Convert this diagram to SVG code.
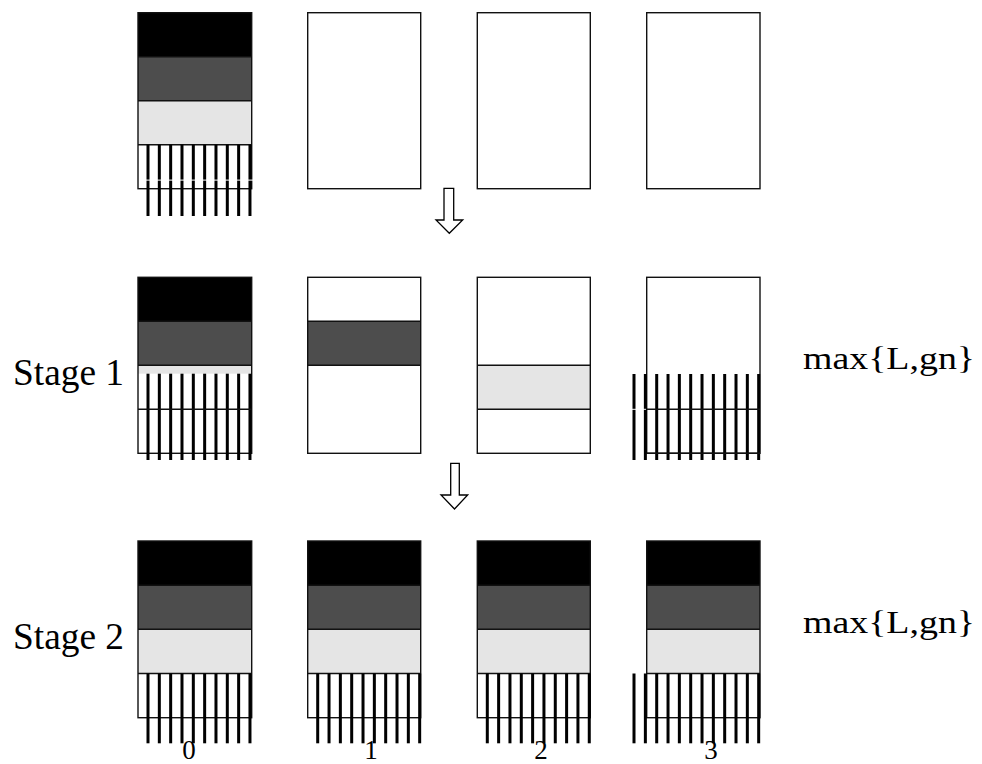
<svg xmlns="http://www.w3.org/2000/svg" width="982" height="764" viewBox="0 0 982 764">
<style>
.k{fill:#000}
.d{fill:#4d4d4d}
.l{fill:#e5e5e5}
.w{fill:#fff}
.ol{fill:none;stroke:#111;stroke-width:1.4}
.ln{stroke:#111;stroke-width:1.4}
.s{fill:#000}
.gap{fill:#fff}
.t{font-family:"Liberation Serif","Times New Roman",serif;fill:#000}
.arr{fill:#fff;stroke:#000;stroke-width:1.3;stroke-linejoin:miter}
</style>
<rect width="982" height="764" fill="#fff"/>

<!-- Top row -->
<g id="top-box0">
<rect class="k" x="138" y="12.7" width="113.7" height="44"/>
<rect class="d" x="138" y="56.7" width="113.7" height="44"/>
<rect class="l" x="138" y="100.7" width="113.7" height="44"/>
<rect class="ol" x="138" y="12.7" width="113.7" height="176"/>
<line class="ln" x1="138" y1="56.7" x2="251.7" y2="56.7"/>
<line class="ln" x1="138" y1="100.7" x2="251.7" y2="100.7"/>
<line class="ln" x1="138" y1="144.7" x2="251.7" y2="144.7"/>
<g class="s">
<rect x="146.5" y="144.7" width="3" height="71.3"/><rect x="157.83" y="144.7" width="3" height="71.3"/><rect x="169.16" y="144.7" width="3" height="71.3"/><rect x="180.49" y="144.7" width="3" height="71.3"/><rect x="191.82" y="144.7" width="3" height="71.3"/><rect x="203.15" y="144.7" width="3" height="71.3"/><rect x="214.48" y="144.7" width="3" height="71.3"/><rect x="225.81" y="144.7" width="3" height="71.3"/><rect x="237.14" y="144.7" width="3" height="71.3"/><rect x="248.47" y="144.7" width="3" height="71.3"/>
</g>
<rect class="gap" x="145" y="179.6" width="108" height="1"/>
</g>
<g id="top-box1"><rect class="ol" x="307.7" y="12.7" width="113" height="176"/></g>
<g id="top-box2"><rect class="ol" x="477.3" y="12.7" width="113" height="176"/></g>
<g id="top-box3"><rect class="ol" x="646.7" y="12.7" width="113.3" height="176"/></g>

<!-- Stage 1 -->
<g id="s1-label"><text class="t" x="13" y="385" font-size="37" textLength="111" lengthAdjust="spacingAndGlyphs">Stage 1</text></g>
<g id="s1-box0">
<rect class="k" x="138" y="277.3" width="113.7" height="44"/>
<rect class="d" x="138" y="321.3" width="113.7" height="44"/>
<rect class="l" x="138" y="365.3" width="113.7" height="8.4"/>
<rect class="ol" x="138" y="277.3" width="113.7" height="176"/>
<line class="ln" x1="138" y1="321.3" x2="251.7" y2="321.3"/>
<line class="ln" x1="138" y1="365.3" x2="251.7" y2="365.3"/>
<g class="s">
<rect x="146.5" y="373.7" width="3" height="86.3"/><rect x="157.83" y="373.7" width="3" height="86.3"/><rect x="169.16" y="373.7" width="3" height="86.3"/><rect x="180.49" y="373.7" width="3" height="86.3"/><rect x="191.82" y="373.7" width="3" height="86.3"/><rect x="203.15" y="373.7" width="3" height="86.3"/><rect x="214.48" y="373.7" width="3" height="86.3"/><rect x="225.81" y="373.7" width="3" height="86.3"/><rect x="237.14" y="373.7" width="3" height="86.3"/><rect x="248.47" y="373.7" width="3" height="86.3"/>
</g>
<line class="ln" x1="138" y1="409.3" x2="251.7" y2="409.3"/>
</g>
<g id="s1-box1">
<rect class="d" x="307.7" y="321.3" width="113" height="44"/>
<rect class="ol" x="307.7" y="277.3" width="113" height="176"/>
<line class="ln" x1="307.7" y1="321.3" x2="420.7" y2="321.3"/>
<line class="ln" x1="307.7" y1="365.3" x2="420.7" y2="365.3"/>
</g>
<g id="s1-box2">
<rect class="l" x="477.3" y="365.3" width="113" height="44"/>
<rect class="ol" x="477.3" y="277.3" width="113" height="176"/>
<line class="ln" x1="477.3" y1="365.3" x2="590.3" y2="365.3"/>
<line class="ln" x1="477.3" y1="409.3" x2="590.3" y2="409.3"/>
</g>
<g id="s1-box3">
<rect class="ol" x="646.7" y="277.3" width="113.3" height="176"/>
<g class="s">
<rect x="632.5" y="374" width="3" height="86"/><rect x="643.87" y="374" width="3" height="86"/><rect x="655.2" y="374" width="3" height="86"/><rect x="666.53" y="374" width="3" height="86"/><rect x="677.86" y="374" width="3" height="86"/><rect x="689.19" y="374" width="3" height="86"/><rect x="700.52" y="374" width="3" height="86"/><rect x="711.85" y="374" width="3" height="86"/><rect x="723.18" y="374" width="3" height="86"/><rect x="734.51" y="374" width="3" height="86"/><rect x="745.84" y="374" width="3" height="86"/><rect x="757.17" y="374" width="3" height="86"/>
</g>
<rect class="gap" x="631" y="408.8" width="15" height="1"/>
<line class="ln" x1="646.7" y1="409.3" x2="760" y2="409.3"/>
<line class="ln" x1="646.7" y1="453.3" x2="760" y2="453.3"/>
</g>
<g id="s1-max"><text class="t" x="803" y="369" font-size="32" textLength="172" lengthAdjust="spacingAndGlyphs">max{L,gn}</text></g>

<!-- Stage 2 -->
<g id="s2-label"><text class="t" x="13" y="649" font-size="37" textLength="111" lengthAdjust="spacingAndGlyphs">Stage 2</text></g>
<g id="s2-box0">
<rect class="k" x="138" y="541" width="113.7" height="44.2"/>
<rect class="d" x="138" y="585.2" width="113.7" height="44.1"/>
<rect class="l" x="138" y="629.3" width="113.7" height="44.2"/>
<rect class="ol" x="138" y="541" width="113.7" height="176.7"/>
<line class="ln" x1="138" y1="585.2" x2="251.7" y2="585.2"/>
<line class="ln" x1="138" y1="629.3" x2="251.7" y2="629.3"/>
<line class="ln" x1="138" y1="673.5" x2="251.7" y2="673.5"/>
<g class="s">
<rect x="146.5" y="673.5" width="3" height="69.8"/><rect x="157.83" y="673.5" width="3" height="69.8"/><rect x="169.16" y="673.5" width="3" height="69.8"/><rect x="180.49" y="673.5" width="3" height="69.8"/><rect x="191.82" y="673.5" width="3" height="69.8"/><rect x="203.15" y="673.5" width="3" height="69.8"/><rect x="214.48" y="673.5" width="3" height="69.8"/><rect x="225.81" y="673.5" width="3" height="69.8"/><rect x="237.14" y="673.5" width="3" height="69.8"/><rect x="248.47" y="673.5" width="3" height="69.8"/>
</g>
</g>
<g id="s2-box1">
<rect class="k" x="307.7" y="541" width="113" height="44.2"/>
<rect class="d" x="307.7" y="585.2" width="113" height="44.1"/>
<rect class="l" x="307.7" y="629.3" width="113" height="44.2"/>
<rect class="ol" x="307.7" y="541" width="113" height="176.7"/>
<line class="ln" x1="307.7" y1="585.2" x2="420.7" y2="585.2"/>
<line class="ln" x1="307.7" y1="629.3" x2="420.7" y2="629.3"/>
<line class="ln" x1="307.7" y1="673.5" x2="420.7" y2="673.5"/>
<g class="s">
<rect x="316.2" y="673.5" width="3" height="69.8"/><rect x="327.53" y="673.5" width="3" height="69.8"/><rect x="338.86" y="673.5" width="3" height="69.8"/><rect x="350.19" y="673.5" width="3" height="69.8"/><rect x="361.52" y="673.5" width="3" height="69.8"/><rect x="372.85" y="673.5" width="3" height="69.8"/><rect x="384.18" y="673.5" width="3" height="69.8"/><rect x="395.51" y="673.5" width="3" height="69.8"/><rect x="406.84" y="673.5" width="3" height="69.8"/><rect x="418.17" y="673.5" width="3" height="69.8"/>
</g>
</g>
<g id="s2-box2">
<rect class="k" x="477.3" y="541" width="113" height="44.2"/>
<rect class="d" x="477.3" y="585.2" width="113" height="44.1"/>
<rect class="l" x="477.3" y="629.3" width="113" height="44.2"/>
<rect class="ol" x="477.3" y="541" width="113" height="176.7"/>
<line class="ln" x1="477.3" y1="585.2" x2="590.3" y2="585.2"/>
<line class="ln" x1="477.3" y1="629.3" x2="590.3" y2="629.3"/>
<line class="ln" x1="477.3" y1="673.5" x2="590.3" y2="673.5"/>
<g class="s">
<rect x="485.8" y="673.5" width="3" height="69.8"/><rect x="497.13" y="673.5" width="3" height="69.8"/><rect x="508.46" y="673.5" width="3" height="69.8"/><rect x="519.79" y="673.5" width="3" height="69.8"/><rect x="531.12" y="673.5" width="3" height="69.8"/><rect x="542.45" y="673.5" width="3" height="69.8"/><rect x="553.78" y="673.5" width="3" height="69.8"/><rect x="565.11" y="673.5" width="3" height="69.8"/><rect x="576.44" y="673.5" width="3" height="69.8"/><rect x="587.77" y="673.5" width="3" height="69.8"/>
</g>
</g>
<g id="s2-box3">
<rect class="k" x="646.7" y="541" width="113.3" height="44.2"/>
<rect class="d" x="646.7" y="585.2" width="113.3" height="44.1"/>
<rect class="l" x="646.7" y="629.3" width="113.3" height="44.2"/>
<rect class="ol" x="646.7" y="541" width="113.3" height="176.7"/>
<line class="ln" x1="646.7" y1="585.2" x2="760" y2="585.2"/>
<line class="ln" x1="646.7" y1="629.3" x2="760" y2="629.3"/>
<line class="ln" x1="646.7" y1="673.5" x2="760" y2="673.5"/>
<g class="s">
<rect x="632.5" y="673.5" width="3" height="69.8"/><rect x="643.87" y="673.5" width="3" height="69.8"/><rect x="655.2" y="673.5" width="3" height="69.8"/><rect x="666.53" y="673.5" width="3" height="69.8"/><rect x="677.86" y="673.5" width="3" height="69.8"/><rect x="689.19" y="673.5" width="3" height="69.8"/><rect x="700.52" y="673.5" width="3" height="69.8"/><rect x="711.85" y="673.5" width="3" height="69.8"/><rect x="723.18" y="673.5" width="3" height="69.8"/><rect x="734.51" y="673.5" width="3" height="69.8"/><rect x="745.84" y="673.5" width="3" height="69.8"/><rect x="757.17" y="673.5" width="3" height="69.8"/>
</g>
</g>
<g id="s2-max"><text class="t" x="803" y="633" font-size="32" textLength="172" lengthAdjust="spacingAndGlyphs">max{L,gn}</text></g>

<!-- Column numbers -->
<g id="col-labels">
<text class="t" x="189" y="759" font-size="27" text-anchor="middle">0</text>
<text class="t" x="371" y="759" font-size="27" text-anchor="middle">1</text>
<text class="t" x="541" y="759" font-size="27" text-anchor="middle">2</text>
<text class="t" x="711" y="759" font-size="27" text-anchor="middle">3</text>
</g>

<!-- Connectors (block arrows) -->
<g id="connectors">
<polygon class="arr" points="444,188.3 453.7,188.3 453.7,220 462.7,220 449.3,233.3 436,220 444,220"/>
<polygon class="arr" points="450.7,463.3 459.3,463.3 459.3,495 467.7,495 454.5,509 441,495 450.7,495"/>
</g>
</svg>
